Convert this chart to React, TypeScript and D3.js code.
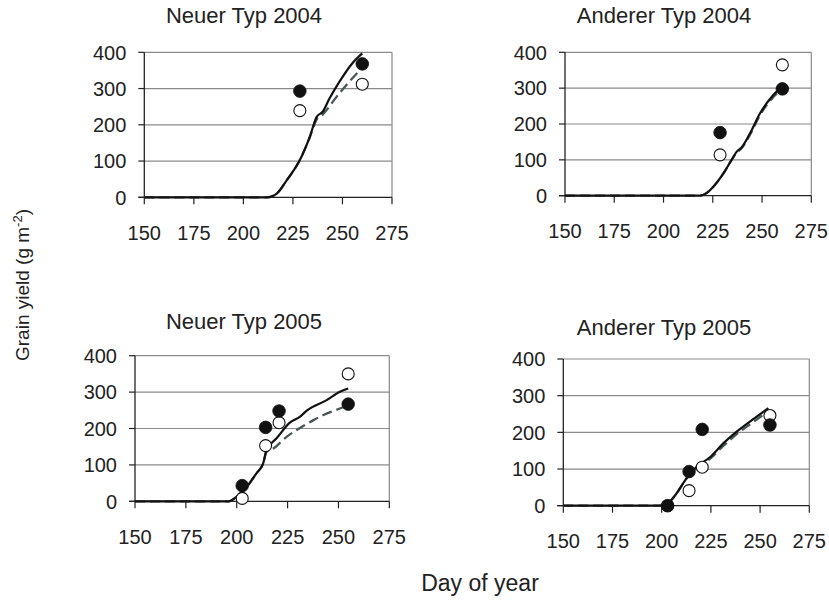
import React from "react";
import * as d3 from "d3";

// ---------- data ----------
const panelTitles = ["Neuer Typ 2004", "Anderer Typ 2004", "Neuer Typ 2005", "Anderer Typ 2005"];
const xTicks = [150, 175, 200, 225, 250, 275];
const yTicks = [0, 100, 200, 300, 400];

// Panel 1: Neuer Typ 2004
const p1SolidDay = [150, 212, 217, 222, 228.5, 233.5, 237, 240, 243.5, 248.5, 255, 260];
const p1SolidVal = [0, 0, 11, 48, 103, 167, 222, 236, 273, 319, 370, 397];
const p1DashDay = [150, 212, 217, 222, 228.5, 233.5, 237, 240, 242, 247, 252, 258];
const p1DashVal = [0, 0, 11, 48, 103, 165, 215, 228, 241, 277, 310, 346];
const p1FilledDay = [228.5, 260];
const p1FilledVal = [293, 368];
const p1OpenDay = [228.5, 260];
const p1OpenVal = [239, 312];

// Panel 2: Anderer Typ 2004
const p2SolidDay = [150, 218.5, 222, 225.3, 230.4, 234, 237.2, 239.7, 243.9, 249, 255.7, 260];
const p2SolidVal = [0, 0, 8, 25, 62, 95, 123, 135, 174, 230, 281, 304];
const p2DashDay = [150, 218.5, 222, 225.3, 230.4, 234, 237.2, 239.7, 243.9, 249, 255.7, 260];
const p2DashVal = [0, 0, 8, 25, 62, 95, 120, 133, 170, 225, 275, 296];
const p2FilledDay = [228.7, 260.3];
const p2FilledVal = [176, 298];
const p2OpenDay = [228.7, 260.3];
const p2OpenVal = [114, 365];

// Panel 3: Neuer Typ 2005
const p3SolidDay = [150, 196, 200, 205, 209.7, 213, 214.7, 219.6, 226.1, 231, 234.4, 244.2, 250.7, 254.8];
const p3SolidVal = [0, 0, 13, 40, 77, 104, 141, 173, 216, 232, 249, 278, 301, 310];
const p3DashDay = [150, 196, 200, 205, 209.7, 213, 214.5, 218, 224.5, 229.5, 237.7, 242.6, 250.7, 254];
const p3DashVal = [0, 0, 13, 40, 77, 104, 135, 145, 177, 196, 223, 237, 255, 262];
const p3FilledDay = [202.7, 214.2, 220.8, 254.8];
const p3FilledVal = [43, 203, 248, 267];
const p3OpenDay = [202.7, 214.2, 220.8, 254.8];
const p3OpenVal = [8, 153, 216, 350];

// Panel 4: Anderer Typ 2005
const p4SolidDay = [150, 199, 203, 207.6, 212.7, 217.8, 224.5, 231.3, 238.1, 246.5, 254.2];
const p4SolidVal = [0, 0, 6, 34, 75, 106, 132, 170, 202, 236, 266];
const p4DashDay = [150, 199, 203, 207.6, 212.7, 217.8, 224.5, 231.3, 238.1, 246.5, 254.2];
const p4DashVal = [0, 0, 6, 34, 75, 104, 128, 163, 195, 228, 258];
const p4FilledDay = [203, 213.9, 220.6, 255];
const p4FilledVal = [0, 93, 208, 220];
const p4OpenDay = [203, 213.9, 220.6, 255];
const p4OpenVal = [0, 41, 105, 246];

// ---------- layout ----------
const boxes = [
  { x0: 144.3, x1: 392, yTop: 52.3, yBot: 197.3, tx: 244, ty: 22.5 },
  { x0: 565, x1: 811.3, yTop: 52.3, yBot: 195.7, tx: 664, ty: 22.5 },
  { x0: 135, x1: 389.3, yTop: 355.7, yBot: 501.3, tx: 244, ty: 329 },
  { x0: 563.3, x1: 809.3, yTop: 359, yBot: 505.7, tx: 664, ty: 335 },
];

const series = [
  { sd: p1SolidDay, sv: p1SolidVal, dd: p1DashDay, dv: p1DashVal, fd: p1FilledDay, fv: p1FilledVal, od: p1OpenDay, ov: p1OpenVal },
  { sd: p2SolidDay, sv: p2SolidVal, dd: p2DashDay, dv: p2DashVal, fd: p2FilledDay, fv: p2FilledVal, od: p2OpenDay, ov: p2OpenVal },
  { sd: p3SolidDay, sv: p3SolidVal, dd: p3DashDay, dv: p3DashVal, fd: p3FilledDay, fv: p3FilledVal, od: p3OpenDay, ov: p3OpenVal },
  { sd: p4SolidDay, sv: p4SolidVal, dd: p4DashDay, dv: p4DashVal, fd: p4FilledDay, fv: p4FilledVal, od: p4OpenDay, ov: p4OpenVal },
];

const FONT = "Liberation Sans, Arial, Helvetica, sans-serif";
const GRID = "#8a8a8a";

function Panel({ i }: { i: number }) {
  const b = boxes[i];
  const s = series[i];
  const x = d3.scaleLinear().domain([150, 275]).range([b.x0, b.x1]);
  const y = d3.scaleLinear().domain([0, 400]).range([b.yBot, b.yTop]);
  const line = d3
    .line<[number, number]>()
    .x((d) => x(d[0]))
    .y((d) => y(d[1]))
    .curve(d3.curveMonotoneX);
  const solid = s.sd.map((d, k) => [d, s.sv[k]] as [number, number]);
  const dash = s.dd.map((d, k) => [d, s.dv[k]] as [number, number]);
  return (
    <g>
      <text x={b.tx} y={b.ty} textAnchor="middle" fontSize={22} fontFamily={FONT} fill="#222">
        {panelTitles[i]}
      </text>
      {yTicks.map((t) => (
        <g key={"y" + t}>
          {t > 0 && <line x1={b.x0} x2={b.x1} y1={y(t)} y2={y(t)} stroke={GRID} strokeWidth={1.2} />}
          <line x1={b.x0 - 6} x2={b.x0} y1={y(t)} y2={y(t)} stroke="#222" strokeWidth={1.2} />
          <text x={b.x0 - 18} y={y(t)} dy="0.36em" textAnchor="end" fontSize={20} fontFamily={FONT} fill="#222">
            {t}
          </text>
        </g>
      ))}
      <line x1={b.x1} x2={b.x1} y1={b.yTop} y2={b.yBot} stroke={GRID} strokeWidth={1.2} />
      <line x1={b.x0} x2={b.x0} y1={b.yTop} y2={b.yBot} stroke="#222" strokeWidth={1.3} />
      <line x1={b.x0 - 6} x2={b.x1} y1={b.yBot} y2={b.yBot} stroke="#222" strokeWidth={1.3} />
      {xTicks.map((t) => (
        <g key={"x" + t}>
          <line x1={x(t)} x2={x(t)} y1={b.yBot} y2={b.yBot + 7} stroke="#222" strokeWidth={1.2} />
          <text x={x(t)} y={b.yBot + 35} dy="0.36em" textAnchor="middle" fontSize={20} fontFamily={FONT} fill="#222">
            {t}
          </text>
        </g>
      ))}
      <path d={line(dash) || ""} fill="none" stroke="#4a5555" strokeWidth={2.3} strokeDasharray="10,5" />
      <path d={line(solid) || ""} fill="none" stroke="#111" strokeWidth={2.2} />
      {s.od.map((d, k) => (
        <circle key={"o" + k} cx={x(d)} cy={y(s.ov[k])} r={6} fill="#fff" stroke="#111" strokeWidth={1.1} />
      ))}
      {s.fd.map((d, k) => (
        <circle key={"f" + k} cx={x(d)} cy={y(s.fv[k])} r={6.3} fill="#111" stroke="#111" strokeWidth={0.8} />
      ))}
    </g>
  );
}

export default function App() {
  return (
    <svg
      width={829}
      height={601}
      style={{ position: "absolute", left: 0, top: 0, background: "#fff" }}
    >
      <rect x={0} y={0} width={829} height={601} fill="#fff" />
      {[0, 1, 2, 3].map((i) => (
        <Panel key={i} i={i} />
      ))}
      <text
        transform="translate(29,285) rotate(-90)"
        textAnchor="middle"
        fontSize={19}
        fontFamily={FONT}
        fill="#222"
      >
        Grain yield (g m
        <tspan dy={-7} fontSize={13}>-2</tspan>
        <tspan dy={7}>)</tspan>
      </text>
      <text x={480} y={591} textAnchor="middle" fontSize={23} fontFamily={FONT} fill="#222">
        Day of year
      </text>
    </svg>
  );
}
